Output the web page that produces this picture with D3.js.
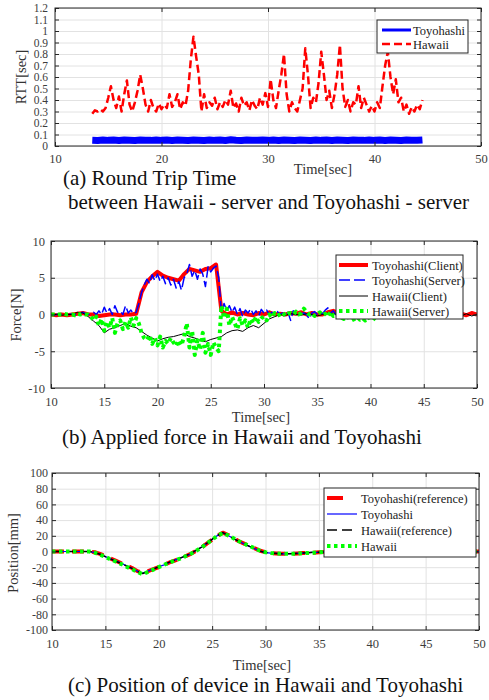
<!DOCTYPE html>
<html>
<head>
<meta charset="utf-8">
<script src="https://cdn.jsdelivr.net/npm/d3@7"></script>
<style>
  body { margin: 0; background: #fff; }
  svg { font-family: "Liberation Serif", "Times New Roman", serif; }
  .grid line { stroke: #e2e2e2; }
  .grid path { display: none; }
  .axis path { display: none; }
  .axis line { stroke: #262626; }
  .axis text { fill: #3c3c3c; font-family: "Liberation Serif", serif; }
  .frame { fill: none; stroke: #262626; stroke-width: 1; }
  .axis-label { fill: #333; font-size: 14.5px; }
  .caption { fill: #111; font-size: 21px; }
  .legend-text { fill: #222; font-size: 12.5px; }
</style>
</head>
<body>
<div id="wrapper"></div>
<script>
// ---------- data ----------
const timeTicks10 = [10, 20, 30, 40, 50];
const timeTicks5 = [10, 15, 20, 25, 30, 35, 40, 45, 50];
const rttTicks = [0, 0.1, 0.2, 0.3, 0.4, 0.5, 0.6, 0.7, 0.8, 0.9, 1, 1.1, 1.2];
const forceTicks = [-10, -5, 0, 5, 10];
const posTicks = [-100, -80, -60, -40, -20, 0, 20, 40, 60, 80, 100];

// (a) RTT, Hawaii sampled every 0.25 s from 13.5 s
const rttHawaiiStart = 13.5;
const rttHawaiiStep = 0.25;
const rttHawaii = [
  0.28, 0.31, 0.30, 0.32, 0.30, 0.33, 0.42, 0.52,
  0.40, 0.33, 0.43, 0.30, 0.45, 0.57, 0.36, 0.30,
  0.38, 0.48, 0.62, 0.50, 0.36, 0.30, 0.40, 0.33,
  0.30, 0.37, 0.32, 0.36, 0.33, 0.45, 0.34, 0.38,
  0.45, 0.32, 0.38, 0.35, 0.48, 0.75, 0.95, 0.78,
  0.62, 0.30, 0.45, 0.33, 0.38, 0.35, 0.42, 0.32,
  0.38, 0.34, 0.40, 0.36, 0.48, 0.33, 0.37, 0.30,
  0.42, 0.35, 0.38, 0.31, 0.40, 0.35, 0.32, 0.42,
  0.36, 0.46, 0.34, 0.58, 0.40, 0.33, 0.48, 0.62,
  0.80, 0.45, 0.30, 0.38, 0.33, 0.30, 0.40, 0.50,
  0.85, 0.62, 0.33, 0.42, 0.38, 0.55, 0.82, 0.62,
  0.40, 0.48, 0.33, 0.45, 0.62, 0.88, 0.50, 0.34,
  0.40, 0.30, 0.38, 0.36, 0.52, 0.33, 0.42, 0.36,
  0.30, 0.35, 0.30, 0.38, 0.33, 0.52, 0.70, 0.82,
  0.60, 0.45, 0.58, 0.38, 0.42, 0.30, 0.36, 0.28,
  0.34, 0.30, 0.36, 0.32, 0.40
];
// Toyohashi RTT every 0.5 s from 13.5 s
const rttToyoStart = 13.5;
const rttToyoStep = 0.5;
const rttToyohashi = [
  0.050, 0.048, 0.053, 0.049, 0.052, 0.048, 0.053, 0.050, 0.048, 0.052,
  0.050, 0.049, 0.053, 0.049, 0.052, 0.048, 0.053, 0.050, 0.048, 0.052,
  0.051, 0.048, 0.053, 0.049, 0.052, 0.048, 0.054, 0.050, 0.048, 0.053,
  0.050, 0.049, 0.052, 0.049, 0.053, 0.048, 0.053, 0.050, 0.048, 0.052,
  0.051, 0.048, 0.053, 0.049, 0.052, 0.048, 0.053, 0.050, 0.048, 0.052,
  0.050, 0.049, 0.053, 0.049, 0.052, 0.048, 0.053, 0.050, 0.048, 0.052,
  0.051, 0.049, 0.052
];

// (b) force [N]; client forces every 0.5 s from 10 s
const forceStart = 10;
const forceClientStep = 0.5;
const forceToyoClient = [
  0, -0.1, 0, -0.1, 0, 0.1, 0.2, 0, 0, -0.2,
  -0.1, 0, 0, -0.1, 0, 0, 0.1, 3.0, 4.4, 5.2,
  5.8, 5.3, 5.0, 4.8, 4.6, 5.5, 6.2, 6.0, 5.8, 6.2,
  6.3, 6.8, 0.5, 0, 0.3, 0, 0.2, 0, -0.1, 0.2,
  0, 0.3, 0, 0.1, 0, 0.2, 0.1, 0.3, 0, 0.2,
  0, 0, 0.3, 0.5, 0.2, 0, 0.1, 0, -0.2, 0,
  -0.1, 0, 0, 0.1, 0, -0.1, 0, 0.1, 0, -0.1,
  0, 0.1, 0.1, -0.1, 0, 0.2, -0.1, 0.1, -0.1, 0.2,
  0
];
const forceHawaiiClient = [
  0, 0, -0.1, 0, 0, 0.3, 0.2, -0.3, -0.9, -1.5,
  -2.5, -2.0, -1.8, -1.5, -1.2, -1.6, -1.8, -2.3, -2.8, -3.2,
  -3.6, -3.3, -3.1, -3.0, -2.8, -2.6, -3.0, -3.2, -3.5, -3.7,
  -3.4, -3.2, -3.0, -2.5, -2.2, -2.1, -2.3, -1.8, -1.5, -1.8,
  -1.2, -0.6, -0.3, 0, -0.1, 0.1, 0, -0.1, 0.1, 0,
  -0.2, 0, 0.2, 0.1, 0, -0.2, -0.4, -0.5, -0.3, -0.5,
  -0.2, 0, 0, -0.1, 0, 0.1, 0, -0.1, 0, 0,
  0.1, -0.1, -0.1, 0.1, -0.2, 0, 0.1, -0.2, 0.1, -0.2,
  0
];
// server-side forces every 0.25 s from 10 s to 40.5 s
const forceServerStep = 0.25;
const forceToyoServer = [
  0, -0.1, 0, 0.1, 0, -0.1, 0, 0, 0.1, 0, -0.1, 0.2, 0.3, 0.1, 0, 0.1,
  0.3, 0, 0.5, 0, 1.0, 0.2, 0.8, 0, 1.2, 0.3, 0.5, 0, 1.2, 0.2, 0.6, 0.1,
  0.3, 1.5, 3.0, 4.0, 4.8, 4.2, 5.4, 4.6, 5.5, 4.5, 5.2, 4.2, 5.0, 4.0, 4.8, 3.6,
  4.5, 3.3, 5.0, 5.5, 6.8, 5.2, 6.0, 4.8, 6.2, 5.5, 3.8, 6.5, 5.8, 6.3, 6.6, 5.0,
  0.2, 1.5, 0.5, 1.2, 0.3, 1.0, 0, 0.8, -0.3, 0.6, 0.2, 0.8, 0, 0.5, -0.2, 0.7,
  0.2, 0.6, 0, 0.3, 0.1, 0.4, 0, 0.2, -0.3, 0.3, -0.8, 0.5, 0, 0.3, 0.1, 0.2,
  0, -0.6, 0.2, 0.4, 0, 0.3, 0.1, 0.6, 0.9, 0.2, 0.5, 0, 0.3, 0.2, 0, 0.1,
  -0.3, 0, -0.2, 0.1, -0.3, 0, -0.2, 0, -0.4, -0.1, 0
];
const forceHawaiiServer = [
  0, 0, -0.1, 0, 0, 0.1, 0, 0, 0, -0.1, 0.1, 0, 0.1, 0, 0, -0.3,
  -0.8, -0.3, -1.5, -0.6, -2.2, -1.0, -1.8, -0.5, -2.5, -1.2, -0.8, -2.0, -1.0, -1.8, -0.4, -1.5,
  -0.5, -1.2, -2.5, -3.2, -3.5, -2.8, -4.0, -3.2, -4.2, -3.0, -4.5, -3.6, -4.0, -3.2, -3.8, -4.3,
  -3.5, -4.2, -3.0, -1.2, -4.5, -2.2, -5.5, -3.5, -4.8, -2.5, -5.2, -4.0, -5.5, -3.8, -4.5, -5.0,
  1.2, -0.5, 0.8, -1.5, -0.3, -1.2, -2.0, -0.5, -1.5, -0.8, -1.8, -0.6, -1.2, -0.3, -1.0, -0.5,
  -0.3, -0.8, 0, -0.4, 0.2, -0.2, 0, 0.3, -0.2, 0.1, 0.2, 0, 0.4, 0, 0.2, 0.8,
  0.3, 0, 0.2, -0.2, 0, 0.3, -0.1, 0.1, -0.3, 0.4, -0.2, -0.1, 0.2, -0.4, -0.6, -0.2,
  -0.5, -0.8, -0.6, -0.3, -0.7, -0.5, -0.8, -0.3, -0.6, -0.4, -0.7
];

// (c) position [mm] every 0.5 s from 10 s
const posStart = 10;
const posStep = 0.5;
const posToyoRef = [
  0, 0, 0, 0, 0, 0, 0, 0, -1, -3,
  -6, -9, -12, -15, -18, -21, -25, -27, -25, -22.5,
  -20, -17, -14, -11.5, -9, -6, -3, 1, 5, 10,
  15, 20, 24, 21, 17, 13, 10, 7, 4, 1,
  -1, -2, -2.5, -3, -3, -3, -2.5, -2, -2, -1.5,
  -1, -0.5, 0, 0, 0, 0, 0, 0, 0, 0,
  0, 0, 0, 0, 0, 0, 0, 0, 0, 0,
  0, 0, 0, 0, 0, 0, 0, 0, 0, 0,
  0
];
const posToyo = [
  0, 0, 0, 0, 0, 0, 0, 0, -1.5, -3.5,
  -6.5, -9.5, -12, -15, -18.5, -21.5, -25, -27.5, -25, -22,
  -19.5, -17, -14, -11, -8.5, -6, -3, 1.5, 5.5, 10.5,
  15.5, 20.5, 24, 20.5, 16.5, 13, 9.5, 6.5, 3.5, 0.5,
  -1.5, -2, -2.5, -3, -3, -2.5, -2.5, -2, -1.5, -1,
  -1, -0.5, 0, 0, 0, 0, 0, 0, 0, 0,
  0, 0, 0, 0, 0, 0, 0, 0, 0, 0,
  0, 0, 0, 0, 0, 0, 0, 0, 0, 0,
  0
];
const posHawaiiRef = [
  0, 0, 0, 0, 0, 0, 0, 0, -1.5, -3.5,
  -6.5, -9.5, -12.5, -15.5, -18.5, -21.5, -25.5, -28, -25.5, -22.5,
  -19.5, -16.5, -13.5, -11, -8.5, -5.5, -2.5, 1.5, 5.5, 10.5,
  15.5, 20.5, 24, 20.5, 16.5, 13, 9.5, 6.5, 3.5, 0.5,
  -1.5, -2, -2.5, -3, -3, -3, -2.5, -2, -1.5, -1,
  -1, -0.5, 0, 0, 0, 0, 0, 0, 0, 0,
  0, 0, 0, 0, 0, 0, 0, 0, 0, 0,
  0, 0, 0, 0, 0, 0, 0, 0, 0, 0,
  0
];
const posHawaii = [
  0, 0, 0, 0, 0, 0, 0, 0, -1.5, -4,
  -7, -10, -13, -16, -19.5, -22.5, -26, -29, -26, -23,
  -20, -17, -14, -11.5, -9, -6, -3, 1, 5, 10,
  15, 20, 23.5, 20.5, 17, 13, 10, 7, 4, 1,
  -1, -2, -2.5, -3, -3, -3, -2.5, -2, -2, -1.5,
  -1, -0.5, 0, 0, 0, 0, 0, 0, 0, 0,
  0, 0, 0, 0, 0, 0, 0, 0, 0, 0,
  0, 0, 0, 0, 0, 0, 0, 0, 0, 0,
  0
];

// ---------- canvas ----------
const svg = d3.select("#wrapper").append("svg")
  .attr("width", 489)
  .attr("height", 700);

// d3 axes put sans-serif 10px on the group, drop that
const plainFont = (sel) => sel.attr("font-family", null).attr("font-size", null);

function drawPanel(cfg) {
  const x = d3.scaleLinear().domain([10, 50]).range([cfg.left, cfg.right]);
  const y = d3.scaleLinear().domain(cfg.yDomain).range([cfg.bottom, cfg.top]);
  const w = cfg.right - cfg.left;
  const h = cfg.bottom - cfg.top;
  const g = svg.append("g");

  // grid
  g.append("g").attr("class", "grid")
    .attr("transform", `translate(0,${cfg.bottom})`)
    .call(d3.axisBottom(x).tickValues(cfg.xTicks).tickSize(-h).tickFormat(""));
  g.append("g").attr("class", "grid")
    .attr("transform", `translate(${cfg.left},0)`)
    .call(d3.axisLeft(y).tickValues(cfg.yTicks).tickSize(-w).tickFormat(""));

  // lines
  const clipId = "clip-" + cfg.name;
  g.append("clipPath").attr("id", clipId)
    .append("rect")
    .attr("x", cfg.left).attr("y", cfg.top)
    .attr("width", w).attr("height", h);
  const lines = g.append("g").attr("clip-path", `url(#${clipId})`);
  cfg.series.forEach((s) => {
    lines.append("path")
      .datum(s.values)
      .attr("fill", "none")
      .attr("stroke", s.color)
      .attr("stroke-width", s.width)
      .attr("stroke-dasharray", s.dash || null)
      .attr("stroke-linejoin", "round")
      .attr("d", d3.line()
        .x((d, i) => x(s.t0 + i * s.dt))
        .y((d) => y(d)));
  });

  // axes, ticks inside on all four sides
  const ax = g.append("g");
  ax.append("g").attr("class", "axis")
    .attr("transform", `translate(0,${cfg.bottom})`)
    .call(d3.axisBottom(x).tickValues(cfg.xTicks).tickSize(-4).tickPadding(cfg.xPad).tickFormat((d) => d))
    .call(plainFont)
    .selectAll("text").style("font-size", "12.5px");
  ax.append("g").attr("class", "axis")
    .attr("transform", `translate(0,${cfg.top})`)
    .call(d3.axisTop(x).tickValues(cfg.xTicks).tickSize(-4).tickFormat(""));
  ax.append("g").attr("class", "axis")
    .attr("transform", `translate(${cfg.left},0)`)
    .call(d3.axisLeft(y).tickValues(cfg.yTicks).tickSize(-4).tickPadding(cfg.yPad).tickFormat((d) => d))
    .call(plainFont)
    .selectAll("text").style("font-size", cfg.yFont);
  ax.append("g").attr("class", "axis")
    .attr("transform", `translate(${cfg.right},0)`)
    .call(d3.axisRight(y).tickValues(cfg.yTicks).tickSize(-4).tickFormat(""));
  g.append("rect").attr("class", "frame")
    .attr("x", cfg.left).attr("y", cfg.top)
    .attr("width", w).attr("height", h);

  // axis labels
  g.append("text").attr("class", "axis-label")
    .attr("x", cfg.xLabelX).attr("y", cfg.xLabelY)
    .attr("text-anchor", "middle")
    .text("Time[sec]");
  g.append("text").attr("class", "axis-label")
    .attr("transform", `translate(${cfg.yLabelX},${cfg.yLabelY}) rotate(-90)`)
    .attr("text-anchor", "middle")
    .text(cfg.yLabel);

  // legend
  const lg = cfg.legend;
  g.append("rect")
    .attr("x", lg.x).attr("y", lg.y)
    .attr("width", lg.w).attr("height", lg.h)
    .attr("fill", "#fff").attr("stroke", "#262626");
  cfg.series.forEach((s, i) => {
    const ry = lg.rows[i];
    g.append("line")
      .attr("x1", lg.x1).attr("x2", lg.x2)
      .attr("y1", ry).attr("y2", ry)
      .attr("stroke", s.color)
      .attr("stroke-width", s.legendWidth || s.width)
      .attr("stroke-dasharray", s.legendDash || s.dash || null);
    g.append("text").attr("class", "legend-text")
      .attr("x", lg.tx).attr("y", ry + 4.5)
      .text(s.label);
  });

  // captions
  cfg.captions.forEach((c) => {
    svg.append("text").attr("class", "caption")
      .attr("x", c.x).attr("y", c.y)
      .text(c.text);
  });
}

// (a) round trip time
drawPanel({
  name: "rtt",
  left: 55, right: 481, top: 8, bottom: 146,
  yDomain: [0, 1.2],
  xTicks: timeTicks10, yTicks: rttTicks,
  xPad: 8, yPad: 7, yFont: "11.5px",
  xLabelX: 323, xLabelY: 174,
  yLabel: "RTT[sec]", yLabelX: 26, yLabelY: 77,
  series: [
    { label: "Toyohashi", values: rttToyohashi, t0: rttToyoStart, dt: rttToyoStep, color: "#0000ff", width: 7, legendWidth: 3 },
    { label: "Hawaii", values: rttHawaii, t0: rttHawaiiStart, dt: rttHawaiiStep, color: "#ff0000", width: 2.5, dash: "8,4" }
  ],
  legend: { x: 377, y: 20, w: 91, h: 33, x1: 382, x2: 411, tx: 413, rows: [30, 44] },
  captions: [
    { x: 63, y: 185, text: "(a) Round Trip Time" },
    { x: 68, y: 209, text: "between Hawaii - server and Toyohashi - server" }
  ]
});

// (b) applied force
drawPanel({
  name: "force",
  left: 51, right: 477, top: 241, bottom: 388,
  yDomain: [-10, 10],
  xTicks: timeTicks5, yTicks: forceTicks,
  xPad: 9, yPad: 6, yFont: "12.5px",
  xLabelX: 261, xLabelY: 422,
  yLabel: "Force[N]", yLabelX: 21, yLabelY: 315,
  series: [
    { label: "Toyohashi(Client)", values: forceToyoClient, t0: forceStart, dt: forceClientStep, color: "#ff0000", width: 4 },
    { label: "Toyohashi(Server)", values: forceToyoServer, t0: forceStart, dt: forceServerStep, color: "#0000ff", width: 1.5, dash: "11,4" },
    { label: "Hawaii(Client)", values: forceHawaiiClient, t0: forceStart, dt: forceClientStep, color: "#000000", width: 1 },
    { label: "Hawaii(Server)", values: forceHawaiiServer, t0: forceStart, dt: forceServerStep, color: "#00ff00", width: 4, dash: "3.5,3.5" }
  ],
  legend: { x: 336, y: 255, w: 127, h: 64, x1: 339, x2: 368, tx: 372, rows: [265, 280, 296, 311] },
  captions: [
    { x: 62, y: 444, text: "(b) Applied force in Hawaii and Toyohashi" }
  ]
});

// (c) position of device
drawPanel({
  name: "pos",
  left: 52, right: 479, top: 473, bottom: 630,
  yDomain: [-100, 100],
  xTicks: timeTicks5, yTicks: posTicks,
  xPad: 9, yPad: 4, yFont: "12px",
  xLabelX: 262, xLabelY: 670,
  yLabel: "Position[mm]", yLabelX: 18, yLabelY: 553,
  series: [
    { label: "Toyohashi(reference)", values: posToyoRef, t0: posStart, dt: posStep, color: "#ff0000", width: 4, dash: "12,8", legendDash: "16,20" },
    { label: "Toyohashi", values: posToyo, t0: posStart, dt: posStep, color: "#0000ff", width: 1.2 },
    { label: "Hawaii(reference)", values: posHawaiiRef, t0: posStart, dt: posStep, color: "#000000", width: 1.5, dash: "10,5" },
    { label: "Hawaii", values: posHawaii, t0: posStart, dt: posStep, color: "#00ff00", width: 4, dash: "3.5,3.5" }
  ],
  legend: { x: 324, y: 488, w: 152, h: 69, x1: 327, x2: 357, tx: 361, rows: [498, 514, 530, 546] },
  captions: [
    { x: 68, y: 692, text: "(c) Position of device in Hawaii and Toyohashi" }
  ]
});
</script>
</body>
</html>
